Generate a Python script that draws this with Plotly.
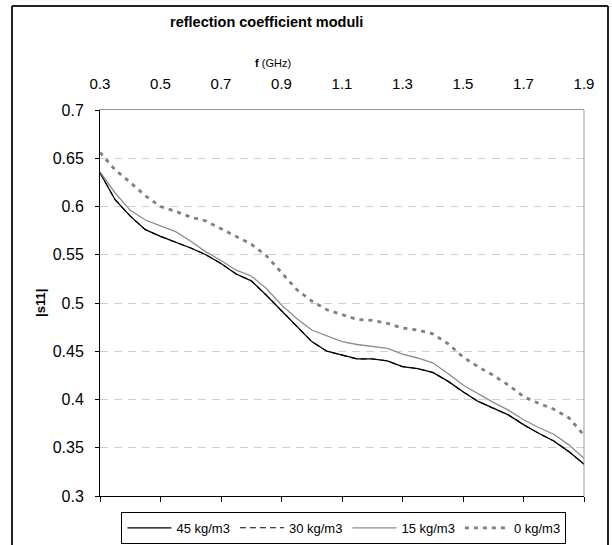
import plotly.graph_objects as go

freq = [0.30, 0.35, 0.40, 0.45, 0.50, 0.55, 0.60, 0.65, 0.70, 0.75, 0.80,
        0.85, 0.90, 0.95, 1.00, 1.05, 1.10, 1.15, 1.20, 1.25, 1.30, 1.35,
        1.40, 1.45, 1.50, 1.55, 1.60, 1.65, 1.70, 1.75, 1.80, 1.85, 1.90]

s11_45 = [0.635, 0.607, 0.590, 0.576, 0.569, 0.563, 0.557, 0.550, 0.541, 0.530, 0.523,
          0.508, 0.492, 0.475, 0.460, 0.450, 0.446, 0.442, 0.442, 0.440, 0.434, 0.432,
          0.428, 0.419, 0.408, 0.398, 0.391, 0.384, 0.374, 0.365, 0.357, 0.346, 0.333]

s11_30 = [0.635, 0.607, 0.590, 0.576, 0.569, 0.563, 0.557, 0.550, 0.541, 0.530, 0.523,
          0.508, 0.492, 0.475, 0.460, 0.450, 0.446, 0.442, 0.442, 0.440, 0.434, 0.432,
          0.428, 0.419, 0.408, 0.398, 0.391, 0.384, 0.374, 0.365, 0.357, 0.346, 0.333]

s11_15 = [0.636, 0.614, 0.596, 0.586, 0.580, 0.574, 0.564, 0.553, 0.544, 0.534, 0.528,
          0.515, 0.498, 0.484, 0.472, 0.466, 0.460, 0.457, 0.455, 0.453, 0.447, 0.443,
          0.438, 0.427, 0.415, 0.406, 0.397, 0.389, 0.379, 0.371, 0.364, 0.353, 0.339]

s11_0 = [0.656, 0.638, 0.625, 0.611, 0.600, 0.595, 0.589, 0.585, 0.577, 0.569, 0.561,
         0.549, 0.532, 0.514, 0.502, 0.493, 0.488, 0.483, 0.482, 0.479, 0.474, 0.472,
         0.468, 0.458, 0.444, 0.434, 0.425, 0.415, 0.403, 0.396, 0.390, 0.381, 0.363]

series_names = ["45 kg/m3", "30 kg/m3", "15 kg/m3", "0 kg/m3"]
x_ticks = [0.3, 0.5, 0.7, 0.9, 1.1, 1.3, 1.5, 1.7, 1.9]
x_tick_labels = ["0.3", "0.5", "0.7", "0.9", "1.1", "1.3", "1.5", "1.7", "1.9"]
y_ticks = [0.3, 0.35, 0.4, 0.45, 0.5, 0.55, 0.6, 0.65, 0.7]
y_tick_labels = ["0.3", "0.35", "0.4", "0.45", "0.5", "0.55", "0.6", "0.65", "0.7"]

FONT = "Liberation Sans, Arial, sans-serif"

fig = go.Figure()
fig.add_trace(go.Scatter(x=freq, y=s11_45, name=series_names[0], mode="lines",
                         line=dict(color="#000000", width=1.3)))
fig.add_trace(go.Scatter(x=freq, y=s11_30, name=series_names[1], mode="lines",
                         line=dict(color="#000000", width=1.1, dash="6px,4px")))
fig.add_trace(go.Scatter(x=freq, y=s11_15, name=series_names[2], mode="lines",
                         line=dict(color="#8c8c8c", width=1.3)))
fig.add_trace(go.Scatter(x=freq, y=s11_0, name=series_names[3], mode="lines",
                         xaxis="x2", line=dict(color="#808080", width=2.8, dash="4px,5px")))

fig.update_layout(
    width=612, height=545,
    margin=dict(l=100, r=28, t=110, b=49, autoexpand=False),
    paper_bgcolor="white", plot_bgcolor="white",
    font=dict(family=FONT, size=13, color="black"),
    showlegend=True,
    legend=dict(orientation="h", x=0.504, y=-0.041, xanchor="center", yanchor="top",
                bordercolor="black", borderwidth=1, font=dict(size=13, family=FONT),
                itemwidth=44, tracegroupgap=0),
    xaxis=dict(range=[0.3, 1.9], tickvals=x_ticks, ticktext=x_tick_labels,
               showticklabels=False, ticks="outside", ticklen=5, tickcolor="black",
               showline=True, linecolor="black", linewidth=1, showgrid=False,
               zeroline=False, fixedrange=True),
    xaxis2=dict(range=[0.3, 1.9], overlaying="x", side="top", tickvals=x_ticks,
                ticktext=x_tick_labels, showticklabels=True, ticks="",
                ticklabelstandoff=14, tickfont=dict(size=15),
                showline=True, linecolor="#999999", linewidth=1, showgrid=False,
                zeroline=False),
    yaxis=dict(range=[0.3, 0.7], tickvals=y_ticks, ticktext=y_tick_labels,
               ticks="outside", ticklen=4, tickcolor="black", ticklabelstandoff=8,
               showline=True, linecolor="black", linewidth=1,
               showgrid=True, gridcolor="#d0d0d0", griddash="8px,6px", gridwidth=1,
               zeroline=False, tickfont=dict(size=16)),
    shapes=[
        dict(type="line", xref="paper", yref="paper", x0=1, x1=1, y0=0, y1=1,
             line=dict(color="#999999", width=1)),
        dict(type="line", xref="paper", yref="paper", x0=-0.1818, x1=-0.1818, y0=-0.13, y1=1.2694,
             line=dict(color="#222222", width=2)),
        dict(type="line", xref="paper", yref="paper", x0=-0.1818, x1=1.0496, y0=1.2694, y1=1.2694,
             line=dict(color="#222222", width=2)),
        dict(type="line", xref="paper", yref="paper", x0=1.0496, x1=1.0496, y0=-0.13, y1=1.2694,
             line=dict(color="#222222", width=2)),
    ],
    annotations=[
        dict(text="<b>reflection coefficient moduli</b>", xref="paper", yref="paper",
             x=0.343, y=1.228, xanchor="center", yanchor="middle", showarrow=False,
             font=dict(size=14.5, family=FONT)),
        dict(text="<b>f</b> (GHz)", xref="paper", yref="paper",
             x=0.357, y=1.122, xanchor="center", yanchor="middle", showarrow=False,
             font=dict(size=11, family=FONT)),
        dict(text="<b>|s11|</b>", xref="paper", yref="paper", textangle=-90,
             x=-0.124, y=0.5, xanchor="center", yanchor="middle", showarrow=False,
             font=dict(size=13, family=FONT)),
    ],
)

fig.write_html("out.html", config={"displayModeBar": False},
               post_script="document.body.style.margin='0';")
